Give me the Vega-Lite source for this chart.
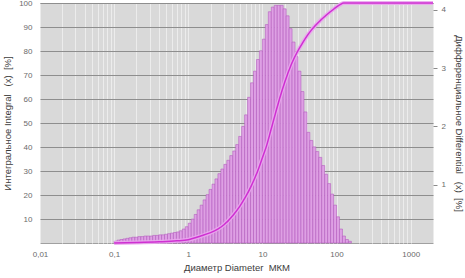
{
  "$schema": "https://vega.github.io/schema/vega-lite/v6.json",
  "autosize": "none",
  "width": 393,
  "height": 240,
  "padding": {"left": 40, "top": 3, "right": 32, "bottom": 35},
  "background": "white",
  "config": {
    "view": {"fill": "#d9d9d9", "stroke": "#a0a0a0", "strokeWidth": 1},
    "font": "Liberation Sans",
    "axis": {"labelFont": "Liberation Sans", "titleFont": "Liberation Sans", "labelColor": "#6a6a6a", "titleColor": "#3c3c3c", "labelFontSize": 8, "titleFontSize": 9.5, "titleFontWeight": "normal", "domain": false}
  },
  "datasets": {
    "bins": [
      {"lo": 0.1, "hi": 0.1096, "q": 0.03}, {"lo": 0.1096, "hi": 0.1202, "q": 0.05}, {"lo": 0.1202, "hi": 0.1318, "q": 0.06},
      {"lo": 0.1318, "hi": 0.1445, "q": 0.07}, {"lo": 0.1445, "hi": 0.1585, "q": 0.08}, {"lo": 0.1585, "hi": 0.1738, "q": 0.09},
      {"lo": 0.1738, "hi": 0.1905, "q": 0.10}, {"lo": 0.1905, "hi": 0.2089, "q": 0.10}, {"lo": 0.2089, "hi": 0.2291, "q": 0.11},
      {"lo": 0.2291, "hi": 0.2512, "q": 0.11}, {"lo": 0.2512, "hi": 0.2754, "q": 0.12}, {"lo": 0.2754, "hi": 0.302, "q": 0.12},
      {"lo": 0.302, "hi": 0.3311, "q": 0.12}, {"lo": 0.3311, "hi": 0.3631, "q": 0.13}, {"lo": 0.3631, "hi": 0.3981, "q": 0.13},
      {"lo": 0.3981, "hi": 0.4365, "q": 0.14}, {"lo": 0.4365, "hi": 0.4786, "q": 0.14}, {"lo": 0.4786, "hi": 0.5248, "q": 0.15},
      {"lo": 0.5248, "hi": 0.5754, "q": 0.16}, {"lo": 0.5754, "hi": 0.631, "q": 0.17}, {"lo": 0.631, "hi": 0.6918, "q": 0.18},
      {"lo": 0.6918, "hi": 0.7586, "q": 0.19}, {"lo": 0.7586, "hi": 0.8318, "q": 0.21}, {"lo": 0.8318, "hi": 0.912, "q": 0.24},
      {"lo": 0.912, "hi": 1.0, "q": 0.28},
      {"lo": 1.0, "hi": 1.096, "q": 0.34}, {"lo": 1.096, "hi": 1.202, "q": 0.41}, {"lo": 1.202, "hi": 1.318, "q": 0.49},
      {"lo": 1.318, "hi": 1.445, "q": 0.57}, {"lo": 1.445, "hi": 1.585, "q": 0.65}, {"lo": 1.585, "hi": 1.738, "q": 0.74},
      {"lo": 1.738, "hi": 1.905, "q": 0.83}, {"lo": 1.905, "hi": 2.089, "q": 0.92}, {"lo": 2.089, "hi": 2.291, "q": 1.01},
      {"lo": 2.291, "hi": 2.512, "q": 1.10}, {"lo": 2.512, "hi": 2.754, "q": 1.19}, {"lo": 2.754, "hi": 3.02, "q": 1.27},
      {"lo": 3.02, "hi": 3.311, "q": 1.35}, {"lo": 3.311, "hi": 3.631, "q": 1.42}, {"lo": 3.631, "hi": 3.981, "q": 1.50},
      {"lo": 3.981, "hi": 4.365, "q": 1.58}, {"lo": 4.365, "hi": 4.786, "q": 1.69}, {"lo": 4.786, "hi": 5.248, "q": 1.83},
      {"lo": 5.248, "hi": 5.754, "q": 2.0}, {"lo": 5.754, "hi": 6.31, "q": 2.2}, {"lo": 6.31, "hi": 6.918, "q": 2.5},
      {"lo": 6.918, "hi": 7.586, "q": 2.75}, {"lo": 7.586, "hi": 8.318, "q": 2.95}, {"lo": 8.318, "hi": 9.12, "q": 3.15},
      {"lo": 9.12, "hi": 10.0, "q": 3.3},
      {"lo": 10.0, "hi": 10.96, "q": 3.5}, {"lo": 10.96, "hi": 12.02, "q": 3.75}, {"lo": 12.02, "hi": 13.18, "q": 3.97},
      {"lo": 13.18, "hi": 14.45, "q": 4.05}, {"lo": 14.45, "hi": 15.85, "q": 4.08}, {"lo": 15.85, "hi": 17.38, "q": 4.08},
      {"lo": 17.38, "hi": 19.05, "q": 4.08}, {"lo": 19.05, "hi": 20.89, "q": 4.02}, {"lo": 20.89, "hi": 22.91, "q": 3.9},
      {"lo": 22.91, "hi": 25.12, "q": 3.68}, {"lo": 25.12, "hi": 27.54, "q": 3.45}, {"lo": 27.54, "hi": 30.2, "q": 3.2},
      {"lo": 30.2, "hi": 33.11, "q": 2.95}, {"lo": 33.11, "hi": 36.31, "q": 2.6}, {"lo": 36.31, "hi": 39.81, "q": 2.25},
      {"lo": 39.81, "hi": 43.65, "q": 1.9}, {"lo": 43.65, "hi": 47.86, "q": 1.76}, {"lo": 47.86, "hi": 52.48, "q": 1.65},
      {"lo": 52.48, "hi": 57.54, "q": 1.57}, {"lo": 57.54, "hi": 63.1, "q": 1.47}, {"lo": 63.1, "hi": 69.18, "q": 1.33},
      {"lo": 69.18, "hi": 75.86, "q": 1.18}, {"lo": 75.86, "hi": 83.18, "q": 1.02}, {"lo": 83.18, "hi": 91.2, "q": 0.84},
      {"lo": 91.2, "hi": 100.0, "q": 0.65},
      {"lo": 100.0, "hi": 109.6, "q": 0.45}, {"lo": 109.6, "hi": 120.2, "q": 0.24}, {"lo": 120.2, "hi": 131.8, "q": 0.12},
      {"lo": 131.8, "hi": 144.5, "q": 0.06}, {"lo": 144.5, "hi": 158.5, "q": 0.03}
    ],
    "cum": [
      {"d": 0.1, "Q": 0}, {"d": 0.2, "Q": 0.2}, {"d": 0.4, "Q": 0.5}, {"d": 0.7, "Q": 0.9}, {"d": 1.0, "Q": 1.4},
      {"d": 1.5, "Q": 3.0}, {"d": 2.0, "Q": 4.3}, {"d": 2.5, "Q": 5.8}, {"d": 3.0, "Q": 7.5}, {"d": 4.0, "Q": 11.5},
      {"d": 5.0, "Q": 15.5}, {"d": 6.0, "Q": 19.5}, {"d": 7.0, "Q": 23.5}, {"d": 8.0, "Q": 27.5}, {"d": 9.0, "Q": 31.5},
      {"d": 10.0, "Q": 35.5}, {"d": 11.5, "Q": 41}, {"d": 13.0, "Q": 47}, {"d": 15.0, "Q": 54}, {"d": 17.0, "Q": 60},
      {"d": 20.0, "Q": 67}, {"d": 25.0, "Q": 75}, {"d": 30.0, "Q": 80}, {"d": 35.0, "Q": 83.5}, {"d": 40.0, "Q": 86.3},
      {"d": 46.0, "Q": 88.8}, {"d": 60.0, "Q": 92.6}, {"d": 75.0, "Q": 95.3}, {"d": 92.0, "Q": 97.5}, {"d": 110.0, "Q": 99.2},
      {"d": 125.0, "Q": 100}, {"d": 2000.0, "Q": 100}
    ]
  },
  "layer": [
    {
      "data": {"name": "bins"},
      "mark": {"type": "rect", "fill": "#dea0e4", "stroke": "#b055bc", "strokeWidth": 0.6, "strokeOpacity": 0.9},
      "encoding": {
        "x": {
          "field": "lo", "type": "quantitative",
          "scale": {"type": "log", "domain": [0.01, 2000], "nice": false},
          "axis": {
            "values": [0.01, 0.02, 0.03, 0.04, 0.05, 0.06, 0.07, 0.08, 0.09, 0.1, 0.2, 0.3, 0.4, 0.5, 0.6, 0.7, 0.8, 0.9, 1, 2, 3, 4, 5, 6, 7, 8, 9, 10, 20, 30, 40, 50, 60, 70, 80, 90, 100, 200, 300, 400, 500, 600, 700, 800, 900, 1000, 2000],
            "labelExpr": "abs(log(datum.value)/LN10 - round(log(datum.value)/LN10)) < 0.001 ? replace(format(datum.value, '~g'), '.', ',') : ''",
            "labelOverlap": false, "labelFlush": false, "labelBound": false,
            "ticks": false, "labelPadding": 7,
            "grid": true, "gridColor": "#ececec", "gridWidth": 1,
            "title": "Диаметр Diameter\u00a0\u00a0МКМ", "titlePadding": 4
          }
        },
        "x2": {"field": "hi"},
        "y": {
          "field": "q", "type": "quantitative",
          "scale": {"domain": [0, 4.12], "nice": false, "zero": true},
          "axis": {
            "orient": "right", "values": [1, 2, 3, 4], "grid": false,
            "ticks": true, "tickSize": 4, "tickColor": "#8a8a8a", "labelPadding": 4,
            "title": "Дифференциальное Differential\u00a0\u00a0\u00a0(x)\u00a0\u00a0[%]", "titlePadding": 8
          }
        },
        "y2": {"datum": 0}
      }
    },
    {
      "data": {"name": "cum"},
      "mark": {"type": "line", "color": "#eaa6ee", "strokeWidth": 4, "opacity": 0.9, "interpolate": "monotone"},
      "encoding": {
        "x": {"field": "d", "type": "quantitative", "scale": {"type": "log", "domain": [0.01, 2000], "nice": false}},
        "y": {
          "field": "Q", "type": "quantitative",
          "scale": {"domain": [0, 100], "nice": false},
          "axis": {
            "orient": "left", "values": [10, 20, 30, 40, 50, 60, 70, 80, 90, 100],
            "grid": true, "gridColor": "#8e8e8e", "gridWidth": 1,
            "ticks": false, "labelPadding": 8,
            "title": "Интегральное Integral\u00a0\u00a0\u00a0(x)\u00a0\u00a0[%]", "titlePadding": 6
          }
        }
      }
    },
    {
      "data": {"name": "cum"},
      "mark": {"type": "line", "color": "#cf30d2", "strokeWidth": 1.5, "interpolate": "monotone"},
      "encoding": {
        "x": {"field": "d", "type": "quantitative", "scale": {"type": "log", "domain": [0.01, 2000], "nice": false}},
        "y": {"field": "Q", "type": "quantitative", "scale": {"domain": [0, 100], "nice": false}, "axis": null}
      }
    }
  ],
  "resolve": {"scale": {"y": "independent"}}
}
